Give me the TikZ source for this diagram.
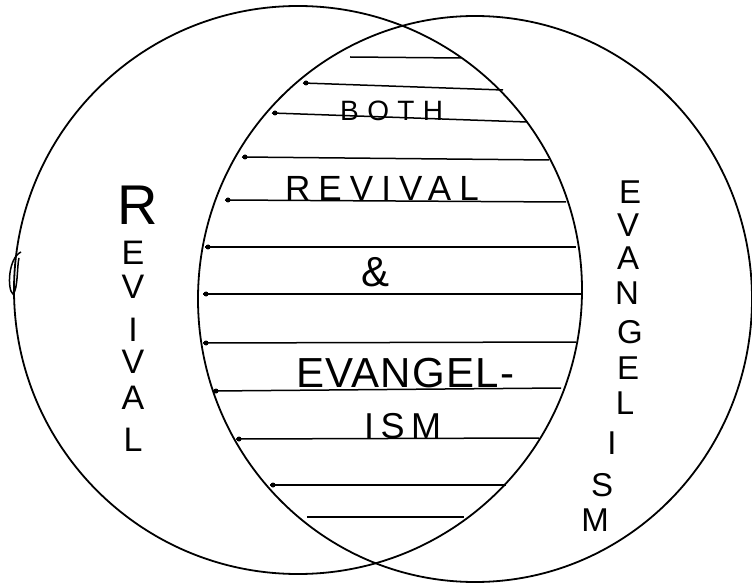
\documentclass[tikz,border=0pt]{standalone}
\usepackage{fontspec}
\setmainfont{Liberation Sans}
\usepackage{graphicx}
\begin{document}
\begin{tikzpicture}[x=1pt,y=-1pt,
  ring/.style={line width=1.8pt},
  hatch/.style={line width=1.5pt},
  word/.style={inner sep=0,anchor=base west},
  vletter/.style={inner sep=0,font=\fontsize{34}{34}\selectfont},
  rletter/.style={inner sep=0,font=\fontsize{33}{33}\selectfont}]
\path[use as bounding box] (0,0) rectangle (752,585);
\fill[white] (0,0) rectangle (752,585);
% circles
\draw[ring] (298,290) circle [radius=284pt];
\draw[ring] (475,299) ellipse [x radius=277pt, y radius=283pt];
% small pen loop on left circle
\draw[line width=1.5pt] (21,252) .. controls (8,258) and (7,290) .. (13,294) .. controls (18,290) and (17,265) .. (19,258);
% hatch lines in the lens
\foreach \xa/\ya/\xb/\yb [count=\i] in {350/57/461/58, 303/83/503/90, 272/113/527/122, 242/157/549/160, 225/200/566/202, 205/247/576/247, 203/294/583/294, 203/343/576/342, 213/391/561/388, 236/439/539/438, 270/485/506/485, 307/517/464/517}
{
  \coordinate (hl\i) at (\xa,\ya);
  \coordinate (hr\i) at (\xb,\yb);
  \draw[hatch] (hl\i) -- (hr\i);
}
\foreach \i in {2,...,11}{
  \fill (hl\i) ++(3,0) circle [radius=2.5pt];
}
% words in the lens
\node[word,font=\fontsize{28}{28}\selectfont\addfontfeatures{LetterSpace=30}] (both) at (340,121) {BOTH};
\node[word,font=\fontsize{35}{35}\selectfont\addfontfeatures{LetterSpace=23}] (rev) at (285,201) {REVIVAL};
\node[inner sep=0,font=\fontsize{42}{42}\selectfont] (amp) at (376,272) {\&};
\node[word,font=\fontsize{42}{42}\selectfont\addfontfeatures{LetterSpace=3}] (evan) at (296,387) {EVANGEL-};
\node[word,font=\fontsize{36}{36}\selectfont\addfontfeatures{LetterSpace=18}] (ism) at (364,438) {ISM};
% left column REVIVAL
\node[inner sep=0,font=\fontsize{56}{56}\selectfont] (bigR) at (138,205) {R};
\foreach \l/\y [count=\i] in {E/253, V/287, I/330, V/362, A/398, L/440}
  \node[vletter] (lv\i) at (133,\y) {\l};
% right column EVANGELISM
\foreach \l/\x/\y [count=\i] in {E/630/192, V/628/225, A/628/258, N/627/293, G/630/332, E/628/368, L/625/403, I/612/443, S/602/485, M/595/520}
  \node[rletter] (rv\i) at (\x,\y) {\l};
\end{tikzpicture}
\end{document}
